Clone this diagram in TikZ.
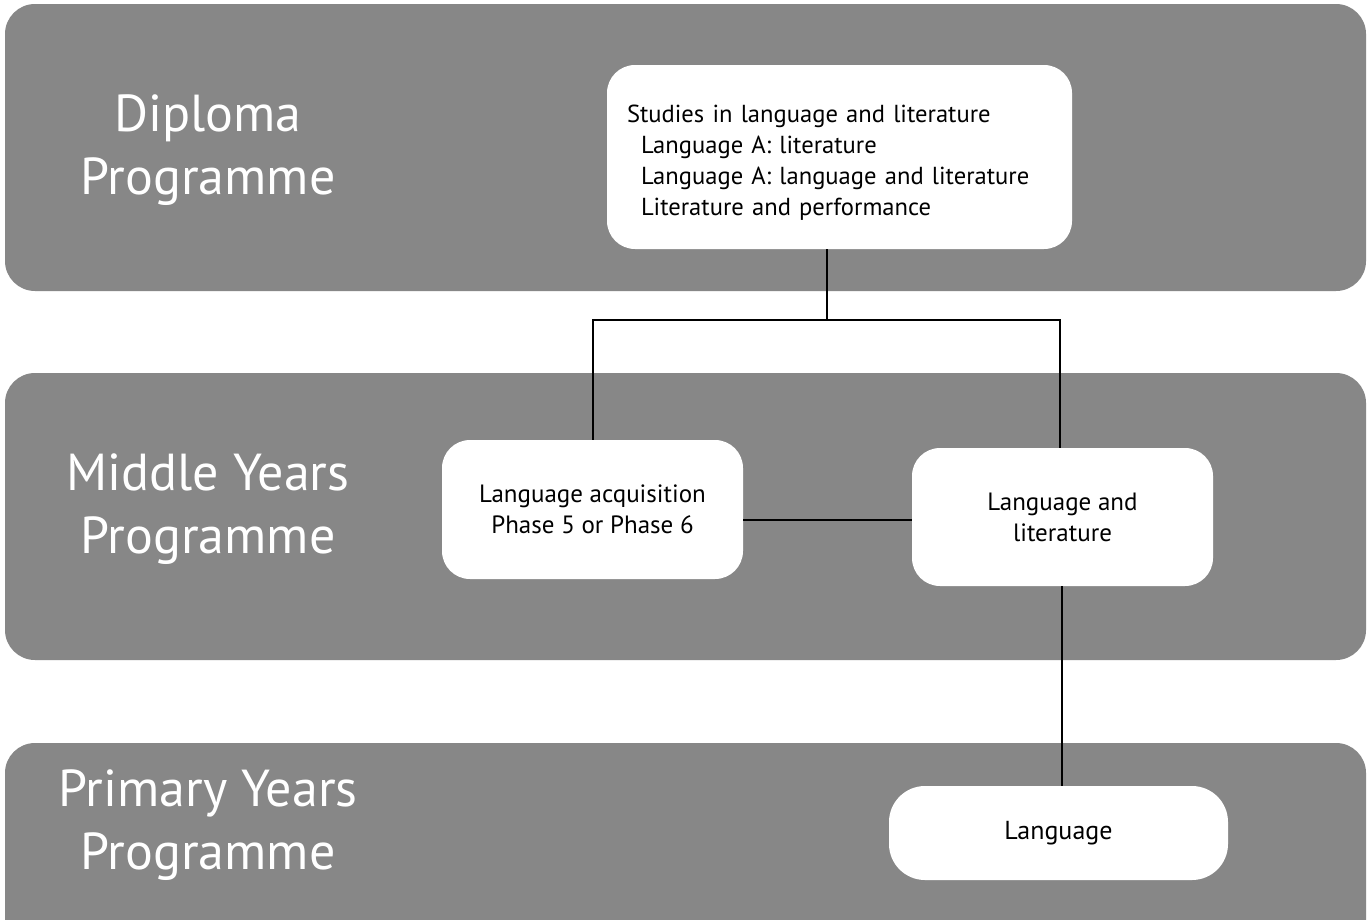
\documentclass[tikz,border=0pt]{standalone}
\usepackage{fontspec}
\setmainfont{PT Sans}
\definecolor{bandgray}{HTML}{878787}
\begin{document}
\begin{tikzpicture}[x=1pt,y=-1pt,
  band/.style={fill=bandgray,rounded corners=30pt},
  lbl/.style={text=white,font=\fontsize{52}{63}\selectfont,align=center},
  wbox/.style={fill=white,rounded corners=28pt,inner sep=0pt},
  conn/.style={draw=black,line width=2pt}]
\useasboundingbox (0,0) rectangle (1368,919);
\clip (0,0) rectangle (1368,919);
\fill[white] (0,0) rectangle (1368,919);
% bands
\path[band] (5,4) rectangle (1366,291);
\path[band] (5,373) rectangle (1366,660);
\path[band] (5,743) rectangle (1366,960);
% band labels
\node[lbl] (dpl) at (208,150) {Diploma\\Programme};
\node[lbl] (mypl) at (208,509) {Middle Years\\Programme};
\node[lbl] (pypl) at (208,825) {Primary Years\\Programme};
% boxes
\node[wbox,minimum width=465pt,minimum height=184pt,text width=425pt,align=left,
  font=\fontsize{24.6}{31}\selectfont] (dp) at (839.5,157)
  {\rule{0pt}{28pt}Studies in language and literature\\
   \hspace*{14pt}Language A: literature\\
   \hspace*{14pt}Language A: language and literature\\
   \hspace*{14pt}Literature and performance};
\node[wbox,minimum width=301pt,minimum height=139pt,align=center,
  font=\fontsize{25}{31}\selectfont] (ma) at (592.5,509.5)
  {Language acquisition\\Phase 5 or Phase 6};
\node[wbox,minimum width=301pt,minimum height=138pt,align=center,
  font=\fontsize{25}{31}\selectfont] (mb) at (1062.5,517)
  {Language and\\literature};
\node[wbox,rounded corners=36pt,minimum width=339pt,minimum height=94pt,align=center,
  font=\fontsize{26}{31}\selectfont] (pyp) at (1058.5,833)
  {Language};
% connectors
\coordinate (j) at (827,320);
\coordinate (jr) at (1060,320);
\coordinate (h) at (0,520);
\coordinate (v) at (1062,0);
\draw[conn] (dp.south -| j) -- (j);
\draw[conn] (ma.north) -- (ma.north |- j) -- (jr) -- (jr |- mb.north);
\draw[conn] (ma.east |- h) -- (mb.west |- h);
\draw[conn] (v |- mb.south) -- (v |- pyp.north);
\end{tikzpicture}
\end{document}
